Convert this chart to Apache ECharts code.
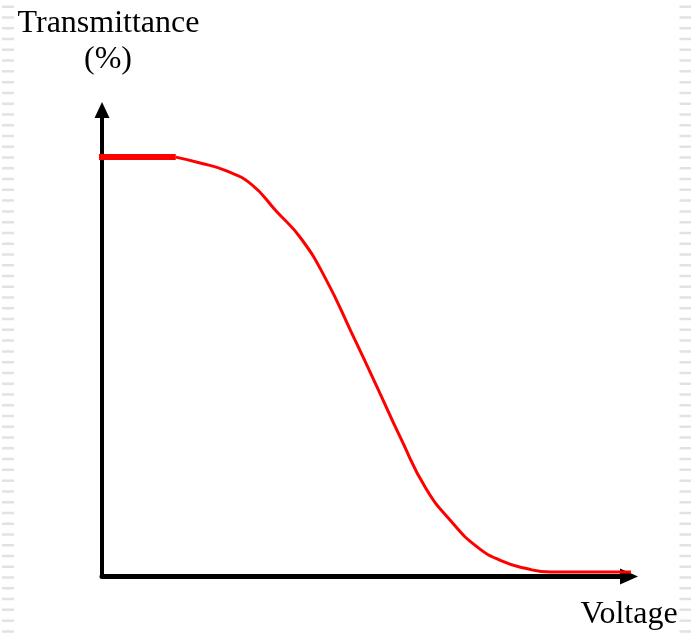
<!DOCTYPE html>
<html>
<head>
<meta charset="utf-8">
<title>Transmittance vs Voltage</title>
<script src="https://cdn.jsdelivr.net/npm/echarts@6/dist/echarts.min.js"></script>
<style>
  html, body { margin: 0; padding: 0; background: #fff; }
  #chart { width: 691px; height: 634px; }
</style>
</head>
<body>
<div id="chart"></div>
<script>
// flat high-transmittance start (thick stroke)
const plateauVoltage = [-0.11, 1.40]
const plateauTrans = [89.9, 89.9]

// falling curve
const voltage = [1.40, 1.88, 2.35, 2.83, 3.30, 3.78, 4.25, 4.73, 5.20, 5.67, 6.15, 6.62, 7.10, 7.57, 8.05, 8.52, 9.30, 10.08]
const transmittance = [89.9, 88.6, 87.0, 84.1, 78.4, 72.4, 63.7, 52.4, 41.1, 29.6, 18.8, 11.9, 6.5, 3.4, 1.7, 0.96, 0.96, 0.96]

const yTitle = ['Transmittance', '(%)']
const xTitle = 'Voltage'

const pair = (xs, ys) => xs.map((x, i) => [x, ys[i]])

const chart = echarts.init(document.getElementById('chart'))

const edgeDash = x => ({
  type: 'line',
  shape: { x1: x, y1: 5.5, x2: x, y2: 634 },
  style: { stroke: '#e2e2e2', lineWidth: 12, lineDash: [2.5, 8.27] },
  silent: true
})

chart.setOption({
  animation: false,
  grid: { left: 102, top: 110, width: 527, height: 466.5 },
  xAxis: {
    type: 'value',
    min: 0,
    max: 10,
    axisLine: {
      lineStyle: { color: '#000', width: 5 },
      symbol: ['none', 'triangle'],
      symbolSize: [16, 18]
    },
    axisTick: { show: false },
    axisLabel: { show: false },
    splitLine: { show: false }
  },
  yAxis: {
    type: 'value',
    min: 0,
    max: 100,
    axisLine: {
      show: true,
      lineStyle: { color: '#000', width: 4 },
      symbol: ['none', 'triangle'],
      symbolSize: [15, 16]
    },
    axisTick: { show: false },
    axisLabel: { show: false },
    splitLine: { show: false }
  },
  graphic: [
    edgeDash(8),
    edgeDash(685.5),
    {
      type: 'text',
      x: 108.5,
      y: 23.5,
      style: { text: yTitle[0], font: '32px "Liberation Serif"', fill: '#000', align: 'center', verticalAlign: 'middle' }
    },
    {
      type: 'text',
      x: 108,
      y: 60,
      style: { text: yTitle[1], font: '32px "Liberation Serif"', fill: '#000', align: 'center', verticalAlign: 'middle' }
    },
    {
      type: 'text',
      x: 629,
      y: 615,
      style: { text: xTitle, font: '32px "Liberation Serif"', fill: '#000', align: 'center', verticalAlign: 'middle' }
    }
  ],
  series: [
    {
      type: 'line',
      data: pair(plateauVoltage, plateauTrans),
      symbol: 'none',
      clip: false,
      z: 3,
      lineStyle: { color: '#ff0000', width: 6 }
    },
    {
      type: 'line',
      data: pair(voltage, transmittance),
      symbol: 'none',
      smooth: 0.5,
      clip: false,
      z: 3,
      lineStyle: { color: '#ff0000', width: 3 }
    }
  ]
})
</script>
</body>
</html>
